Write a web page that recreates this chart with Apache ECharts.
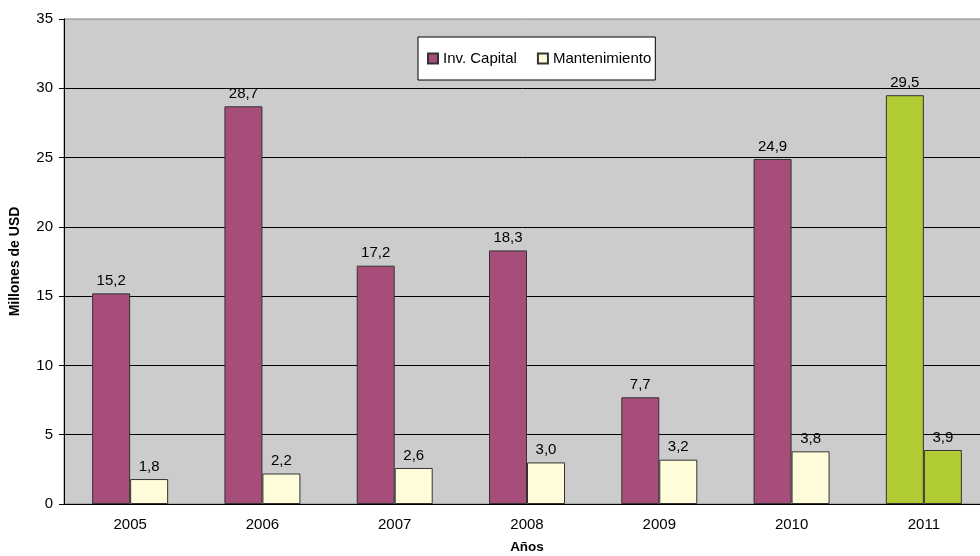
<!DOCTYPE html>
<html>
<head>
<meta charset="utf-8">
<script src="https://cdn.jsdelivr.net/npm/echarts@6/dist/echarts.min.js"></script>
<style>html,body{margin:0;padding:0;background:#fff;}#c{width:980px;height:556px;}</style>
</head>
<body>
<div id="c"></div>
<script>
const categories = ['2005','2006','2007','2008','2009','2010','2011'];
const invCapital = [15.2, 28.7, 17.2, 18.3, 7.7, 24.9, 29.5];
const mantenimiento = [1.8, 2.2, 2.6, 3.0, 3.2, 3.8, 3.9];
const highlightCategory = '2011';

const colInv = '#A64D79';
const colMant = '#FFFCD9';
const colHi = '#B0CB33';
const font = 'Liberation Sans, Arial, sans-serif';

function mk(values) {
  return values.map((v, i) => categories[i] === highlightCategory
    ? { value: v, itemStyle: { color: colHi } }
    : v);
}

const chart = echarts.init(document.getElementById('c'));
chart.setOption({
  animation: false,
  textStyle: { fontFamily: font },
  grid: { left: 64, top: 19, width: 926, height: 485, outerBoundsMode: 'none', containLabel: false,
    show: true, backgroundColor: '#CCCCCC', borderColor: '#808080', borderWidth: 1 },
  legend: {
    left: 418, top: 37,
    backgroundColor: '#fff', borderColor: '#000', borderWidth: 1,
    padding: [14, 4, 14, 9], itemGap: 20,
    itemWidth: 10, itemHeight: 10, icon: 'rect',
    textStyle: { fontSize: 15, color: '#000', fontFamily: font },
    data: ['Inv. Capital', 'Mantenimiento']
  },
  xAxis: {
    type: 'category', data: categories,
    name: 'Años', nameLocation: 'middle', nameGap: 36,
    nameTextStyle: { fontWeight: 'bold', fontSize: 13.5, color: '#000' },
    axisLine: { lineStyle: { color: '#000' } },
    axisTick: { length: 5, lineStyle: { color: '#000' } },
    axisLabel: { color: '#000', fontSize: 15, margin: 13 }
  },
  yAxis: {
    type: 'value', min: 0, max: 35, interval: 5,
    name: 'Millones de USD', nameLocation: 'middle', nameGap: 42,
    nameTextStyle: { fontWeight: 'bold', fontSize: 14, color: '#000' },
    axisLine: { show: true, lineStyle: { color: '#000' } },
    axisTick: { show: true, length: 5, lineStyle: { color: '#000' } },
    axisLabel: { color: '#000', fontSize: 15, margin: 11 },
    splitLine: { show: true, showMaxLine: false, lineStyle: { color: '#000', width: 1 } }
  },
  series: [
    {
      name: 'Inv. Capital', type: 'bar', data: mk(invCapital),
      barWidth: 38, barGap: '0%',
      itemStyle: { color: colInv, borderColor: '#333', borderWidth: 1 },
      label: { show: true, position: 'top', distance: 5, color: '#000', fontSize: 15,
        formatter: p => p.value.toFixed(1).replace('.', ',') }
    },
    {
      name: 'Mantenimiento', type: 'bar', data: mk(mantenimiento),
      barWidth: 38, barGap: '0%',
      itemStyle: { color: colMant, borderColor: '#333', borderWidth: 1 },
      label: { show: true, position: 'top', distance: 5, color: '#000', fontSize: 15,
        formatter: p => p.value.toFixed(1).replace('.', ',') }
    }
  ]
});
</script>
</body>
</html>
